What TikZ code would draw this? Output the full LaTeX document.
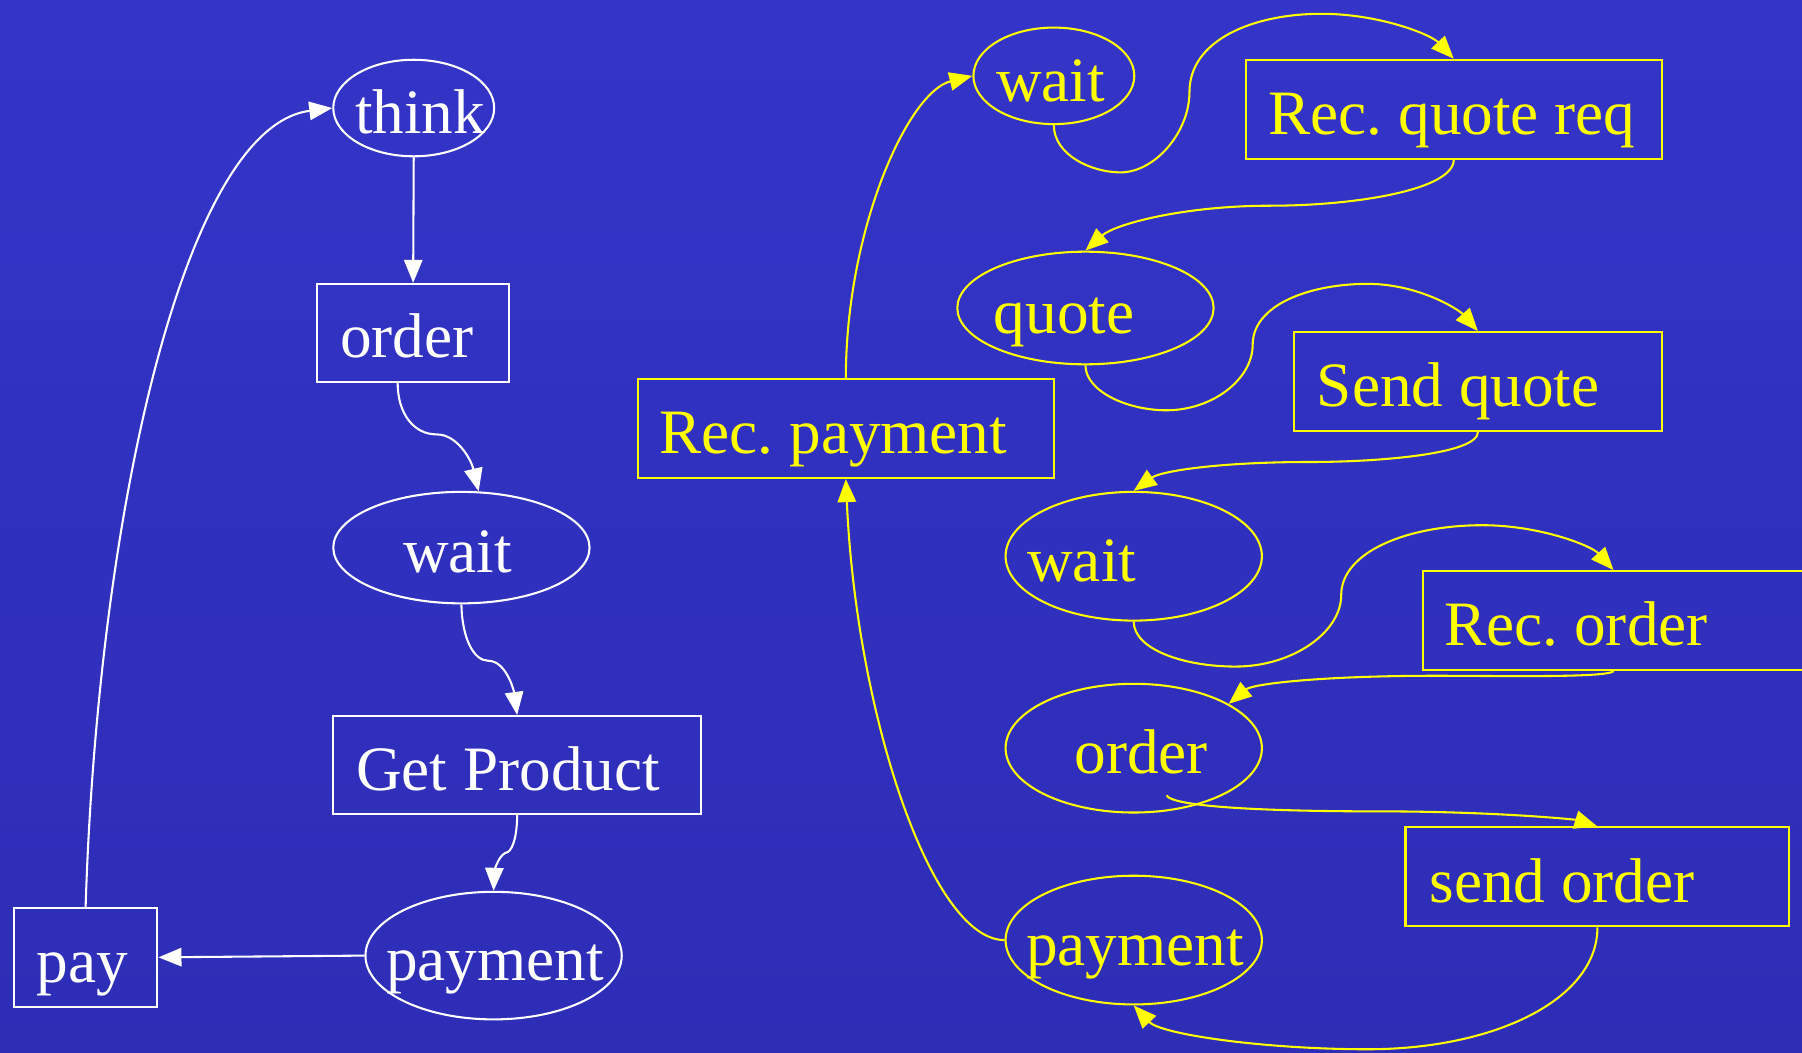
\documentclass[tikz,border=0pt]{standalone}
\usepackage{fontspec}
\setmainfont{Liberation Serif}
\frenchspacing
\usetikzlibrary{arrows.meta,shapes.geometric}
\definecolor{bgtop}{RGB}{52,52,200}
\definecolor{bgbot}{RGB}{45,45,182}
\definecolor{yel}{RGB}{255,255,0}
\begin{document}
\begin{tikzpicture}[x=1pt,y=-1pt,
  line width=1.8pt,
  >={Triangle[length=20pt,width=16pt]},
  ell/.style={ellipse,draw,inner sep=0pt},
  box/.style={rectangle,draw,inner sep=0pt},
  lbl/.style={anchor=base west,inner sep=0pt,font=\fontsize{55}{60}\selectfont},
  wh/.style={draw=white,text=white},
  ye/.style={draw=yel,text=yel},
]
\useasboundingbox (0,0) rectangle (1568,916);
\shade[top color=bgtop,bottom color=bgbot] (0,0) rectangle (1568,916);
\clip (0,0) rectangle (1568,916);

% ---------- left (white) ----------
\node[ell,wh,minimum width=140pt,minimum height=84pt] (think) at (360,94) {};
\node[box,wh,minimum width=167pt,minimum height=85pt] (order) at (359.5,289.5) {};
\node[ell,wh,minimum width=223pt,minimum height=97pt] (waitL) at (401.5,476.5) {};
\node[box,wh,minimum width=320pt,minimum height=85pt] (gp) at (450,665.5) {};
\node[ell,wh,minimum width=223pt,minimum height=111pt] (payL) at (429.5,831.5) {};
\node[box,wh,minimum width=125pt,minimum height=86pt] (pay) at (74.5,833) {};

\node[lbl,text=white] (tThink) at (308,116) {think};
\node[lbl,text=white] (tOrder) at (295,311.5) {order};
\node[lbl,text=white] (tWaitL) at (350,498) {wait};
\node[lbl,text=white] (tGp) at (309,687.5) {Get Product};
\node[lbl,text=white] (tPayL) at (335,853) {payment};
\node[lbl,text=white] (tPay) at (31,855) {pay};

\draw[->,white] (think.south) -- (order.north);
\draw[->,white] ([xshift=-13.5pt]order.south) .. controls (346,360) and (360,378) .. (380,378)
  .. controls (398,378) and (410,400) .. (waitL.73);
\draw[->,white] (waitL.south) .. controls (402,555) and (412,575) .. (425,575)
  .. controls (440,575) and (447,600) .. (gp.north);
\draw[->,white] (gp.south) .. controls (450,730) and (445,742) .. (440,742)
  .. controls (433,745) and (430,760) .. (payL.north);
\draw[->,white] (payL.west) -- (pay.east);
\draw[->,white] (pay.north) .. controls (85,450) and (160,110) .. (think.west);

% ---------- right (yellow) ----------
\node[box,ye,minimum width=362pt,minimum height=86pt] (recpay) at (736,373) {};
\node[ell,ye,minimum width=140pt,minimum height=84pt] (waitT) at (917,66) {};
\node[box,ye,minimum width=362pt,minimum height=86pt] (recq) at (1265,95) {};
\node[ell,ye,minimum width=223pt,minimum height=98pt] (quote) at (944.5,268) {};
\node[box,ye,minimum width=320pt,minimum height=86pt] (sendq) at (1286,332) {};
\node[ell,ye,minimum width=223pt,minimum height=112pt] (waitM) at (986.5,484) {};
\node[box,ye,minimum width=332pt,minimum height=86pt] (reco) at (1404,540) {};
\node[ell,ye,minimum width=223pt,minimum height=112pt] (orderR) at (986.5,651) {};
\node[box,ye,minimum width=334pt,minimum height=86pt] (sendo) at (1390,763) {};
\node[ell,ye,minimum width=223pt,minimum height=112pt] (payR) at (986.5,818) {};

\node[lbl,text=yel] (tRecpay) at (573,395) {Rec. payment};
\node[lbl,text=yel] (tWaitT) at (866,88) {wait};
\node[lbl,text=yel] (tRecq) at (1103,117) {Rec. quote req};
\node[lbl,text=yel] (tQuote) at (864,290) {quote};
\node[lbl,text=yel] (tSendq) at (1145,354) {Send quote};
\node[lbl,text=yel] (tWaitM) at (893,506) {wait};
\node[lbl,text=yel] (tReco) at (1256,562) {Rec. order};
\node[lbl,text=yel] (tOrderR) at (934,673) {order};
\node[lbl,text=yel] (tSendo) at (1243,785) {send order};
\node[lbl,text=yel] (tPayR) at (892,840) {payment};

\draw[->,yel] (recpay.north) .. controls (736,200) and (790,80) .. (waitT.west);
\draw[->,yel] (waitT.south) .. controls (917,135) and (950,150) .. (975,150)
  .. controls (1005,150) and (1035,115) .. (1035,80)
  .. controls (1035,35) and (1090,12) .. (1150,12)
  .. controls (1200,12) and (1245,30) .. (recq.north);
\draw[->,yel] (recq.south) .. controls (1265,165) and (1180,179) .. (1105,179)
  .. controls (1030,179) and (970,195) .. (quote.north);
\draw[->,yel] (quote.south) .. controls (944.5,340) and (980,357) .. (1015,357)
  .. controls (1055,357) and (1090,330) .. (1090,300)
  .. controls (1090,265) and (1140,247) .. (1190,247)
  .. controls (1235,247) and (1270,270) .. (sendq.north);
\draw[->,yel] (sendq.south) .. controls (1286,395) and (1200,402) .. (1140,402)
  .. controls (1060,402) and (1010,410) .. (waitM.north);
\draw[->,yel] (waitM.south) .. controls (986.5,565) and (1030,580) .. (1075,580)
  .. controls (1125,580) and (1167,550) .. (1167,518)
  .. controls (1167,480) and (1225,457) .. (1290,457)
  .. controls (1340,457) and (1385,475) .. (reco.north);
\draw[->,yel] (reco.south) .. controls (1400,590) and (1300,588) .. (1250,588)
  .. controls (1150,588) and (1090,595) .. (orderR.25);
\draw[->,yel] ([shift={(28.5,41)}]orderR.center) .. controls (1020,702) and (1100,706) .. (1200,706)
  .. controls (1300,706) and (1370,713) .. (sendo.north);
\draw[->,yel] (sendo.south) .. controls (1390,870) and (1300,913) .. (1190,913)
  .. controls (1100,913) and (1010,900) .. (payR.south);
\draw[->,yel] (payR.west) .. controls (810,818) and (745,620) .. (recpay.south);
\end{tikzpicture}
\end{document}
